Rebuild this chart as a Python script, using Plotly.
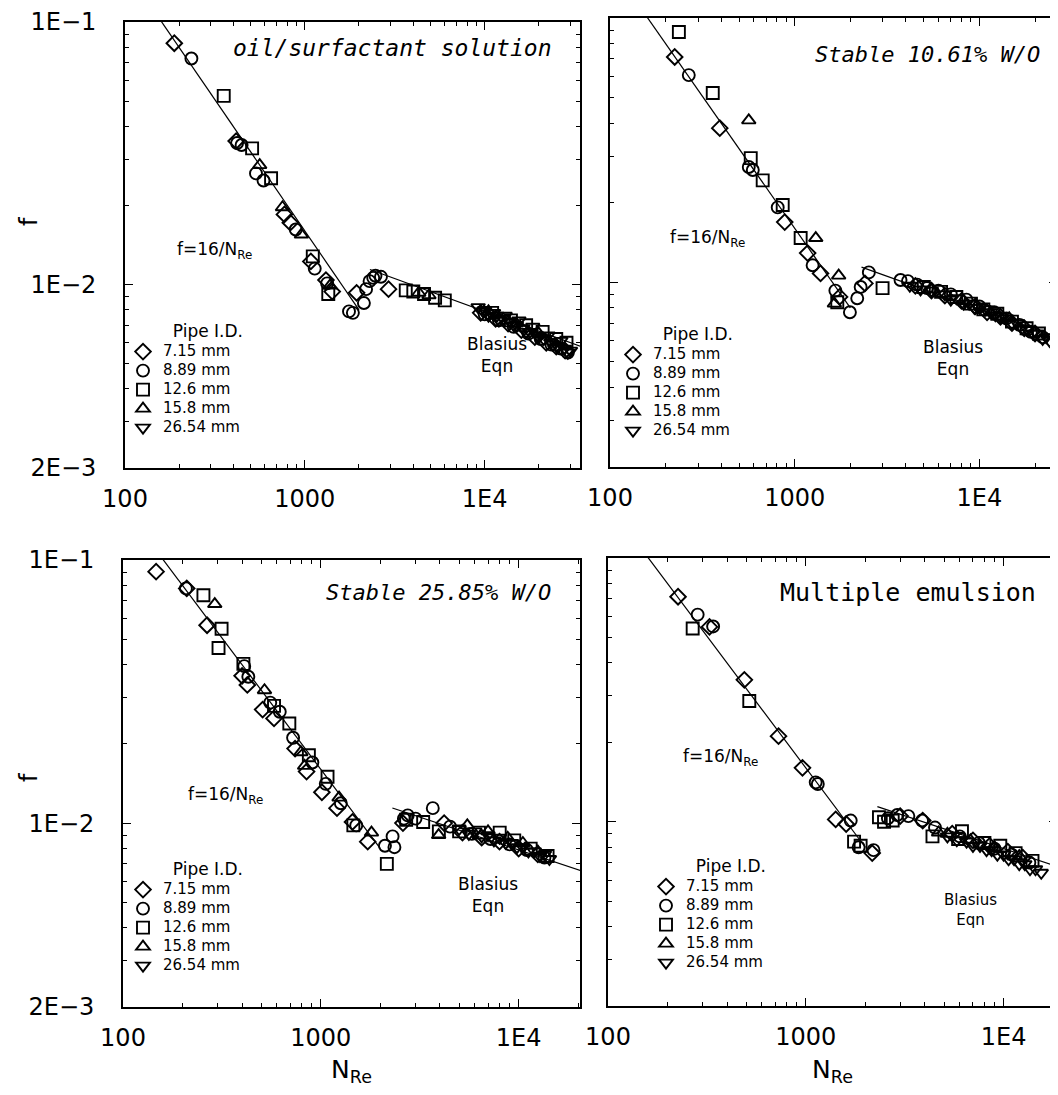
import plotly.graph_objects as go

# ---------------- data (Re, f) ----------------
pipes = ["7.15 mm", "8.89 mm", "12.6 mm", "15.8 mm", "26.54 mm"]
symbols = ["diamond-open", "circle-open", "square-open", "triangle-up-open", "triangle-down-open"]

# Panel 1: oil/surfactant solution
p1_d_re = [188, 415, 770, 830, 1080, 1310, 1420, 1940, 2920, 9500, 11500, 13500, 16000, 19000, 22000, 25000, 28000]
p1_d_f = [0.083, 0.0352, 0.0185, 0.0172, 0.01225, 0.0104, 0.0094, 0.0093, 0.0096, 0.0078, 0.0074, 0.0071, 0.0067, 0.0063, 0.0060, 0.0058, 0.0056]
p1_c_re = [234, 420, 445, 535, 589, 890, 1135, 1330, 1760, 1850, 2130, 2190, 2290, 2400, 2470, 2650, 10000, 12000, 14500, 17500, 20500, 23500, 26500, 29000]
p1_c_f = [0.0726, 0.0346, 0.034, 0.0265, 0.0249, 0.0162, 0.0115, 0.0101, 0.0079, 0.0078, 0.0085, 0.0096, 0.0103, 0.0106, 0.0108, 0.0107, 0.0077, 0.0073, 0.0069, 0.0065, 0.0062, 0.0059, 0.0057, 0.0055]
p1_s_re = [354, 509, 649, 1107, 1350, 3640, 4010, 4600, 5300, 6000, 11000, 14000, 17000, 21000, 25000, 28500]
p1_s_f = [0.0523, 0.033, 0.0254, 0.0128, 0.0092, 0.0095, 0.0094, 0.0092, 0.0089, 0.0087, 0.0078, 0.0073, 0.0070, 0.0066, 0.0062, 0.0060]
p1_t_re = [561, 751, 957, 1380, 4300, 4900, 10500, 15000, 20000]
p1_t_f = [0.0285, 0.0197, 0.0155, 0.0099, 0.0093, 0.0091, 0.0079, 0.0071, 0.0065]
p1_v_re = [9200, 9800, 10000, 10500, 10800, 11200, 11700, 12000, 12700, 13000, 13800, 14500, 15000, 15500, 16300,
           17000, 17800, 18500, 19500, 20000, 21300, 22500, 23300, 24000, 25500, 26500, 27800, 29000, 30000]
p1_v_f = [0.0082, 0.0079, 0.0080, 0.0076, 0.0078, 0.0078, 0.0076, 0.0073, 0.0074, 0.0076, 0.0072, 0.0070, 0.0070, 0.0073, 0.0068,
          0.0066, 0.0066, 0.0069, 0.0064, 0.0063, 0.0062, 0.0064, 0.0060, 0.0059, 0.0058, 0.0061, 0.0057, 0.0055, 0.0056]

# Panel 2: Stable 10.61% W/O
p2_d_re = [224, 393, 883, 1175, 1380, 1750, 2400, 4500, 5500, 6500, 8000, 9500, 11000, 13000, 15000, 17500, 20000]
p2_d_f = [0.0712, 0.0383, 0.0169, 0.0129, 0.0108, 0.0088, 0.0099, 0.0097, 0.0093, 0.0089, 0.0085, 0.0081, 0.0077, 0.0074, 0.0070, 0.0067, 0.0064]
p2_c_re = [267, 564, 593, 809, 1250, 1660, 1990, 2180, 2275, 2520, 3740, 4100, 4600, 5200, 6000, 7000, 8500, 10000, 12000, 14000, 16500, 19000, 22000]
p2_c_f = [0.0608, 0.0273, 0.0266, 0.0192, 0.0116, 0.0093, 0.0077, 0.0087, 0.0096, 0.0109, 0.0102, 0.0101, 0.0098, 0.0095, 0.0093, 0.0090, 0.0086, 0.0081, 0.0077, 0.0073, 0.0069, 0.0065, 0.0062]
p2_s_re = [236, 360, 578, 671, 861, 1077, 1700, 2990, 5000, 6200, 7500, 9000, 10500, 12500, 15000, 18000, 21000]
p2_s_f = [0.0885, 0.052, 0.0295, 0.0243, 0.0196, 0.0147, 0.0084, 0.0095, 0.0096, 0.0092, 0.0088, 0.0083, 0.0079, 0.0076, 0.0071, 0.0067, 0.0064]
p2_t_re = [564, 1300, 1730, 1640, 5500, 8200, 11500, 14500]
p2_t_f = [0.041, 0.0147, 0.0106, 0.0083, 0.0094, 0.0085, 0.0077, 0.0073]
p2_v_re = [4200, 4800, 5500, 6500, 7000, 7500, 8200, 8800, 9400, 10000, 10800, 11500, 12200, 13000, 14000, 15000,
           16000, 17000, 18200, 19500, 20500, 22000, 23000, 24000]
p2_v_f = [0.0097, 0.0094, 0.0093, 0.0090, 0.0086, 0.0087, 0.0083, 0.0083, 0.0080, 0.0080, 0.0079, 0.0077, 0.0075, 0.0074, 0.0073, 0.0070,
          0.0070, 0.0067, 0.0066, 0.0064, 0.0064, 0.0061, 0.0062, 0.0060]

# Panel 3: Stable 25.85% W/O
p3_d_re = [147, 210, 266, 400, 425, 508, 580, 741, 847, 1012, 1207, 1445, 1726, 2600, 4200, 5200, 6500, 8000, 10000, 12500]
p3_d_f = [0.0903, 0.078, 0.0565, 0.0363, 0.0335, 0.027, 0.025, 0.0192, 0.0157, 0.0131, 0.0114, 0.0101, 0.0085, 0.0100, 0.0100, 0.0092, 0.0088, 0.0085, 0.0080, 0.0076]
p3_c_re = [208, 410, 430, 555, 620, 724, 906, 1059, 1262, 1510, 2109, 2305, 2355, 2630, 2750, 3010, 3680, 4500, 5800, 7200, 9000, 11000, 13500]
p3_c_f = [0.078, 0.0395, 0.036, 0.0287, 0.0265, 0.0211, 0.017, 0.0141, 0.0119, 0.0098, 0.0082, 0.0089, 0.0081, 0.0104, 0.0107, 0.0104, 0.0114, 0.0097, 0.0091, 0.0087, 0.0083, 0.0079, 0.0074]
p3_s_re = [255, 315, 304, 406, 580, 693, 870, 1081, 1460, 2156, 2700, 3290, 3950, 5000, 6300, 8020, 9500, 11500, 14000]
p3_s_f = [0.0735, 0.0548, 0.0463, 0.0403, 0.0279, 0.0239, 0.0181, 0.015, 0.0098, 0.0070, 0.0103, 0.0101, 0.0093, 0.0093, 0.0092, 0.0092, 0.0086, 0.0080, 0.0075]
p3_t_re = [291, 519, 793, 828, 1236, 1803, 3940, 5500, 7000, 8800, 10500, 12500]
p3_t_f = [0.068, 0.032, 0.0186, 0.0165, 0.0125, 0.0092, 0.0090, 0.0098, 0.0093, 0.0088, 0.0084, 0.0078]
p3_v_re = [5000, 5600, 6000, 6500, 7000, 7500, 8000, 8600, 9200, 9800, 10500, 11200, 12000, 12800, 13500, 14300]
p3_v_f = [0.0095, 0.0091, 0.0093, 0.0089, 0.0090, 0.0086, 0.0088, 0.0084, 0.0084, 0.0081, 0.0081, 0.0078, 0.0078, 0.0075, 0.0076, 0.0073]

# Panel 4: Multiple emulsion
p4_d_re = [226, 326, 489, 728, 962, 1416, 1600, 2167, 3000, 3900, 5500, 7000, 8500, 10500, 12500]
p4_d_f = [0.0713, 0.0548, 0.0345, 0.0211, 0.016, 0.0102, 0.0098, 0.0076, 0.0105, 0.0101, 0.0090, 0.0085, 0.0081, 0.0077, 0.0073]
p4_c_re = [284, 340, 1122, 1150, 1687, 1850, 2200, 2600, 2900, 3300, 3870, 4500, 6000, 7500, 9000, 11000, 13500]
p4_c_f = [0.061, 0.055, 0.0141, 0.0139, 0.0101, 0.0080, 0.0078, 0.0103, 0.0106, 0.0105, 0.0101, 0.0095, 0.0088, 0.0083, 0.0079, 0.0075, 0.0070]
p4_s_re = [268, 518, 1754, 1893, 2344, 2486, 2750, 4370, 5890, 6160, 8000, 9620, 11500, 14000]
p4_s_f = [0.054, 0.0287, 0.0084, 0.0081, 0.0104, 0.0100, 0.0101, 0.0088, 0.0086, 0.0092, 0.0083, 0.0081, 0.0076, 0.0071]
p4_t_re = [4690, 5200, 6800, 9000, 12000]
p4_t_f = [0.0091, 0.0090, 0.0085, 0.0080, 0.0074]
p4_v_re = [5200, 5800, 6500, 7000, 7600, 8200, 8700, 9300, 10000, 10600, 11300, 12000, 12800, 13600, 14500, 15500]
p4_v_f = [0.0088, 0.0085, 0.0084, 0.0081, 0.0081, 0.0078, 0.0078, 0.0075, 0.0075, 0.0072, 0.0072, 0.0069, 0.0069, 0.0066, 0.0066, 0.0064]

# model curves: f = 16/Re (laminar) and Blasius f = 0.079 Re^-0.25
lam_re = [100, 2000]
blas_re = [2300, 4000, 8000, 16000, 32000, 60000]

panel_titles = ["oil/surfactant solution", "Stable 10.61% W/O", "Stable 25.85% W/O", "Multiple emulsion"]
x_ticks = [100, 1000, 10000]
x_ticktext = ["100", "1000", "1E4"]
y_ticks = [0.1, 0.01, 0.002]
y_ticktext = ["1E\u22121", "1E\u22122", "2E\u22123"]

panels = [
    [(p1_d_re, p1_d_f), (p1_c_re, p1_c_f), (p1_s_re, p1_s_f), (p1_t_re, p1_t_f), (p1_v_re, p1_v_f)],
    [(p2_d_re, p2_d_f), (p2_c_re, p2_c_f), (p2_s_re, p2_s_f), (p2_t_re, p2_t_f), (p2_v_re, p2_v_f)],
    [(p3_d_re, p3_d_f), (p3_c_re, p3_c_f), (p3_s_re, p3_s_f), (p3_t_re, p3_t_f), (p3_v_re, p3_v_f)],
    [(p4_d_re, p4_d_f), (p4_c_re, p4_c_f), (p4_s_re, p4_s_f), (p4_t_re, p4_t_f), (p4_v_re, p4_v_f)],
]

# ---------------- layout geometry (screen pixels; page body has an 8 px margin) ----------------
OFF = 8
W, H = 1050, 1079
def px(x): return (x - OFF) / W
def py(y): return 1 - (y - OFF) / H

# (left, right, top, bottom) in screen pixels, and x log range max
boxes = [(125, 580, 22, 468, 4.53), (610, 1057, 18, 467, 4.42),
         (123, 580, 560, 1007, 4.31), (608, 1057, 558, 1006, 4.27)]
legend_pos = [(123, 315), (613, 318), (123, 853), (646, 850)]

FONT = "DejaVu Sans"
MONO = "DejaVu Sans Mono"
fig = go.Figure()

minor_x = [m * 10 ** e for e in range(2, 5) for m in range(2, 10)]
minor_y = [m * 10 ** e for e in (-3, -2) for m in range(2, 10)]

for i, data in enumerate(panels):
    xa = "x" if i == 0 else f"x{i+1}"
    ya = "y" if i == 0 else f"y{i+1}"
    lg = "legend" if i == 0 else f"legend{i+1}"
    # model lines
    fig.add_trace(go.Scatter(x=lam_re, y=[16 / r for r in lam_re], mode="lines",
                             line=dict(color="black", width=1.2), xaxis=xa, yaxis=ya,
                             showlegend=False, hoverinfo="skip"))
    fig.add_trace(go.Scatter(x=blas_re, y=[0.079 * r ** -0.25 for r in blas_re], mode="lines",
                             line=dict(color="black", width=1.2), xaxis=xa, yaxis=ya,
                             showlegend=False, hoverinfo="skip"))
    for k, (re_, f_) in enumerate(data):
        fig.add_trace(go.Scatter(x=re_, y=f_, mode="markers",
                                 name='<span style="font-size:15px">%s</span>' % pipes[k],
                                 marker=dict(symbol=symbols[k], size=12, color="black",
                                             line=dict(width=1.9, color="black")),
                                 xaxis=xa, yaxis=ya, legend=lg, showlegend=True))

    l, r, t, b, xmax = boxes[i]
    left_col = i in (0, 2)
    bottom_row = i in (2, 3)
    xd = dict(type="log", range=[2.0, xmax], domain=[px(l), min(px(r), 1.0)], anchor=ya,
              tickmode="array", tickvals=x_ticks, ticktext=x_ticktext,
              ticks="inside", ticklen=8, tickwidth=1.3, tickcolor="black",
              showline=True, linecolor="black", linewidth=1.6, mirror="allticks",
              showgrid=False, zeroline=False, ticklabelstandoff=8, automargin=False,
              tickfont=dict(family=FONT, size=24, color="black"),
              minor=dict(tickmode="array", tickvals=minor_x, ticks="inside", ticklen=4,
                         tickcolor="black", tickwidth=1.1, showgrid=False))
    if bottom_row:
        xd["title"] = dict(text="N<sub>Re</sub>", font=dict(family=FONT, size=25, color="black"),
                           standoff=12)
    yd = dict(type="log", range=[-2.69897, -1.0], domain=[py(b), py(t)], anchor=xa,
              tickmode="array", tickvals=y_ticks, ticktext=y_ticktext,
              ticks="inside", ticklen=8, tickwidth=1.3, tickcolor="black",
              showline=True, linecolor="black", linewidth=1.6, mirror="allticks",
              showgrid=False, zeroline=False, showticklabels=left_col, ticklabelstandoff=22,
              automargin=False,
              tickfont=dict(family=FONT, size=24, color="black"),
              minor=dict(tickmode="array", tickvals=minor_y, ticks="inside", ticklen=4,
                         tickcolor="black", tickwidth=1.1, showgrid=False))
    fig.layout[("xaxis" if i == 0 else f"xaxis{i+1}")] = xd
    fig.layout[("yaxis" if i == 0 else f"yaxis{i+1}")] = yd

    lx, ly = legend_pos[i]
    fig.layout[lg] = dict(x=px(lx), y=py(ly), xanchor="left", yanchor="top",
                          bgcolor="rgba(0,0,0,0)", borderwidth=0,
                          font=dict(family=FONT, size=12, color="black"),
                          title=dict(text="Pipe I.D.", side="top right",
                                     font=dict(family=FONT, size=17, color="black")),
                          tracegroupgap=0, itemclick=False, itemdoubleclick=False)

annotations = []
def ann(text, x, y, size, family, angle=0):
    return dict(text=text, x=px(x), y=py(y), xref="paper", yref="paper", showarrow=False,
                xanchor="center", yanchor="middle", textangle=angle,
                font=dict(family=family, size=size, color="black"))

# y-axis titles (left column)
for (x, y) in [(29, 222), (29, 778)]:
    annotations.append(ann("f", x, y, 24, FONT, -90))
# panel titles
title_pos = [(392, 48, 23, True), (927, 55, 22, True), (438, 592, 22, True), (908, 592, 25, False)]
for txt, (x, y, s, it) in zip(panel_titles, title_pos):
    annotations.append(ann(("<i>%s</i>" % txt) if it else txt, x, y, s, MONO))
# laminar labels
for (x, y) in [(214, 250), (707, 238), (225, 795), (720, 757)]:
    annotations.append(ann("f=16/N<sub>Re</sub>", x, y, 17, FONT))
# Blasius labels
for (x, y, s) in [(497, 355, 17), (953, 358, 17), (488, 895, 17), (970, 910, 15)]:
    annotations.append(ann("Blasius<br>Eqn", x, y, s, FONT))

fig.update_layout(width=W, height=H, margin=dict(l=0, r=0, t=0, b=0, autoexpand=False),
                  paper_bgcolor="white", plot_bgcolor="white",
                  annotations=annotations, showlegend=True)

fig.write_html("out.html")
